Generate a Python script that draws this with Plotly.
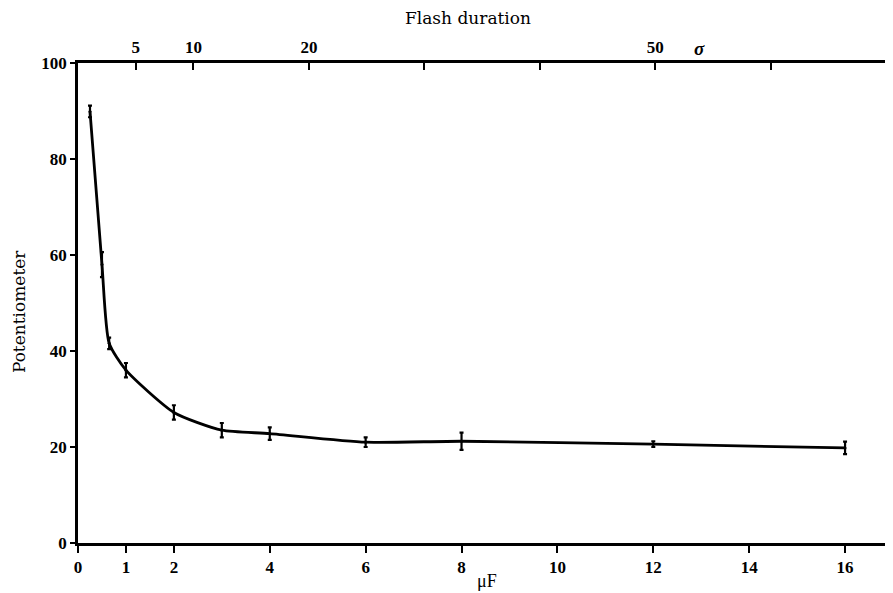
import plotly.graph_objects as go

# Data
capacitance_uF = [0.25, 0.5, 0.65, 1, 2, 3, 4, 6, 8, 12, 16]
potentiometer = [89.9, 58.0, 41.6, 36.0, 27.2, 23.5, 22.8, 21.0, 21.2, 20.6, 19.8]
error = [1.2, 2.6, 1.2, 1.5, 1.5, 1.5, 1.3, 1.0, 1.8, 0.6, 1.3]

bottom_ticks = [0, 1, 2, 4, 6, 8, 10, 12, 14, 16]
y_ticks = [0, 20, 40, 60, 80, 100]
flash_ticks_sigma = [5, 10, 20, 30, 40, 50, 60, 70]
flash_tick_labels = ["5", "10", "20", "", "", "50", "", ""]
SIGMA_PER_UF = 4.152
X_MAX = 17

FONT = "Liberation Serif"
TITLEFONT = "DejaVu Serif"
TICKFONT = dict(family=FONT, size=17, weight="bold")

fig = go.Figure()
fig.add_trace(go.Scatter(
    x=capacitance_uF, y=potentiometer,
    mode="lines",
    line=dict(color="black", width=2.8, shape="spline", smoothing=0.6),
    showlegend=False, hoverinfo="skip",
))
fig.add_trace(go.Scatter(
    x=capacitance_uF, y=potentiometer,
    mode="markers",
    marker=dict(color="black", size=3),
    error_y=dict(type="data", array=error, visible=True, color="black", thickness=2.2, width=2),
    showlegend=False,
))
# invisible trace to anchor the top axis
fig.add_trace(go.Scatter(
    x=[0, X_MAX * SIGMA_PER_UF], y=[None, None], xaxis="x2", mode="markers",
    marker=dict(opacity=0), showlegend=False, hoverinfo="skip",
))

# The page is shown with an 8px body margin, so the figure is sized to fit the window
fig.update_layout(
    width=885, height=585,
    margin=dict(l=70, r=0, t=55, b=50),
    paper_bgcolor="white", plot_bgcolor="white",
    font=dict(family=FONT, color="black", size=15),
    xaxis=dict(
        range=[0, X_MAX], tickvals=bottom_ticks, automargin=False,
        showline=True, linecolor="black", linewidth=2.8,
        ticks="outside", ticklen=7, tickwidth=2.2, tickcolor="black",
        showgrid=False, zeroline=False,
        tickfont=TICKFONT,
    ),
    yaxis=dict(
        range=[0, 100], tickvals=y_ticks, automargin=False,
        showline=True, linecolor="black", linewidth=2.8,
        ticks="outside", ticklen=5, tickwidth=2.2, tickcolor="black",
        showgrid=False, zeroline=False,
        tickfont=TICKFONT,
    ),
    xaxis2=dict(
        overlaying="x", side="top", anchor="y", automargin=False,
        range=[0, X_MAX * SIGMA_PER_UF],
        tickvals=flash_ticks_sigma, ticktext=flash_tick_labels,
        showline=True, linecolor="black", linewidth=2.6,
        ticks="inside", ticklen=7, tickwidth=2.2, tickcolor="black",
        showgrid=False, zeroline=False,
        tickfont=TICKFONT,
    ),
    annotations=[
        dict(text="Flash duration", xref="paper", yref="paper", x=0.478, y=1.0,
             yanchor="middle", yshift=45, showarrow=False,
             font=dict(family=TITLEFONT, size=17)),
        dict(text="<i>σ</i>", xref="x2", yref="paper", x=53.8, y=1.0,
             yanchor="middle", yshift=15, showarrow=False,
             font=dict(family=FONT, size=19, weight="bold")),
        dict(text="μF", xref="paper", yref="paper", x=0.502, y=0.0,
             yanchor="middle", yshift=-38, showarrow=False,
             font=dict(family=FONT, size=18)),
        dict(text="Potentiometer", xref="paper", yref="paper", x=0.0, y=0.481,
             xanchor="center", yanchor="middle", xshift=-59, textangle=-90,
             showarrow=False, font=dict(family=TITLEFONT, size=17)),
    ],
)

fig.write_html("out.html")
